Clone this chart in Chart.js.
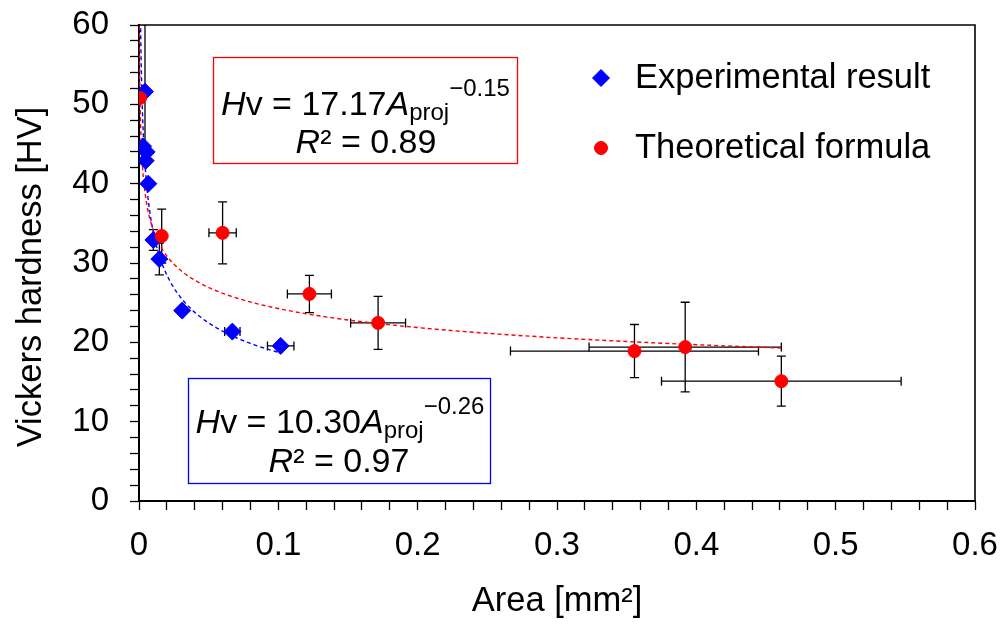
<!DOCTYPE html>
<html>
<head>
<meta charset="utf-8">
<script src="https://cdn.jsdelivr.net/npm/chart.js@4/dist/chart.umd.min.js"></script>
<style>
html,body{margin:0;padding:0;background:#fff}
canvas{display:block}
</style>
</head>
<body>
<canvas id="chartHV" width="1000" height="624"></canvas>
<script>
// Experimental result (blue diamonds)
const expArea    = [0.0043, 0.0030, 0.0055, 0.0048, 0.0067, 0.0103, 0.0146, 0.031, 0.067, 0.1017];
const expHV      = [51.6, 44.7, 44.0, 42.9, 40.0, 32.9, 30.5, 24.0, 21.35, 19.55];
const expAreaErr = [0, 0, 0, 0, 0, 0, 0, 0, 0.0055, 0.0095];
const expHVErr   = [9, 0, 0, 0, 0, 1.3, 2.0, 0, 0, 0];

// Theoretical formula (red dots)
const theoArea    = [0.0007, 0.0163, 0.060, 0.1223, 0.1716, 0.3556, 0.392, 0.461];
const theoHV      = [50.8, 33.4, 33.8, 26.1, 22.45, 18.9, 19.4, 15.1];
const theoAreaErr = [0, 0, 0.0098, 0.0158, 0.0197, 0.089, 0.069, 0.086];
const theoHVErr   = [0, 3.4, 3.9, 2.35, 3.35, 3.35, 5.65, 3.15];

// power-law trendlines printed on the chart: Hv = a * A^b, drawn over [from, to]
const expFit  = [10.30, -0.26];
const theoFit = [17.17, -0.15];
const expFitRange  = [0.0008, 0.102];
const theoFitRange = [0.0002, 0.462];

const seriesNames = ['Experimental result', 'Theoretical formula'];
const xAxisTitle = 'Area [mm²]';
const yAxisTitle = 'Vickers hardness [HV]';
const xRange = [0, 0.6], xMinorStep = 0.02;
const yRange = [0, 60], yMinorStep = 2;

const FONT = '"Liberation Sans", Arial, sans-serif';
Chart.defaults.font.family = FONT;
Chart.defaults.font.size = 33;
Chart.defaults.color = '#000';

function pts(xs, ys) { return xs.map((x, i) => ({x: x, y: ys[i]})); }
function fitCurve(fit, range) {
  const out = [], n = 120;
  const l0 = Math.log(range[0]), l1 = Math.log(range[1]);
  for (let i = 0; i <= n; i++) {
    const x = Math.exp(l0 + (l1 - l0) * i / n);
    out.push({x: x, y: fit[0] * Math.pow(x, fit[1])});
  }
  return out;
}

// error bars drawn under the markers
const errorBarsPlugin = {
  id: 'errorBars',
  beforeDatasetsDraw(chart) {
    const ctx = chart.ctx, xs = chart.scales.x, ys = chart.scales.y, a = chart.chartArea;
    ctx.save();
    ctx.beginPath(); ctx.rect(a.left, a.top, a.right - a.left, a.bottom - a.top); ctx.clip();
    ctx.strokeStyle = '#000'; ctx.lineWidth = 1.3;
    const cap = 4.5;
    chart.data.datasets.forEach(ds => {
      if (!ds.errX) return;
      ds.data.forEach((p, i) => {
        const px = xs.getPixelForValue(p.x), py = ys.getPixelForValue(p.y);
        const ex = ds.errX[i], ey = ds.errY[i];
        ctx.beginPath();
        if (ey > 0) {
          const t = ys.getPixelForValue(p.y + ey), b = ys.getPixelForValue(p.y - ey);
          ctx.moveTo(px, t); ctx.lineTo(px, b);
          ctx.moveTo(px - cap, t); ctx.lineTo(px + cap, t);
          ctx.moveTo(px - cap, b); ctx.lineTo(px + cap, b);
        }
        if (ex > 0) {
          const l = xs.getPixelForValue(p.x - ex), r = xs.getPixelForValue(p.x + ex);
          ctx.moveTo(l, py); ctx.lineTo(r, py);
          ctx.moveTo(l, py - cap); ctx.lineTo(l, py + cap);
          ctx.moveTo(r, py - cap); ctx.lineTo(r, py + cap);
        }
        ctx.stroke();
      });
    });
    ctx.restore();
  }
};

// top and right frame of the plot box, plus the y axis title
const framePlugin = {
  id: 'frame',
  afterDraw(chart) {
    const ctx = chart.ctx, a = chart.chartArea;
    ctx.save();
    ctx.strokeStyle = '#000'; ctx.lineWidth = 1.6;
    ctx.beginPath();
    ctx.moveTo(a.left, a.top); ctx.lineTo(a.right, a.top); ctx.lineTo(a.right, a.bottom);
    ctx.stroke();
    ctx.translate(31, 277);
    ctx.rotate(-Math.PI / 2);
    ctx.fillStyle = '#000';
    ctx.font = '34.5px ' + FONT;
    ctx.textAlign = 'center'; ctx.textBaseline = 'middle';
    ctx.fillText(yAxisTitle, 0, 0);
    ctx.restore();
  }
};

function drawRuns(ctx, runs, cx, base) {
  let w = 0;
  runs.forEach(r => {
    ctx.font = (r.it ? 'italic ' : '') + r.size + 'px ' + FONT;
    r.w = ctx.measureText(r.t).width; w += r.w;
  });
  let x = cx - w / 2;
  ctx.textAlign = 'left'; ctx.textBaseline = 'alphabetic';
  runs.forEach(r => {
    ctx.font = (r.it ? 'italic ' : '') + r.size + 'px ' + FONT;
    ctx.fillText(r.t, x, base + (r.dy || 0));
    x += r.w;
  });
}
function eqRuns(coef, expo) {
  return [
    {t: 'H', it: true, size: 34}, {t: 'v = ' + coef, size: 34},
    {t: 'A', it: true, size: 34}, {t: 'proj', size: 24, dy: 5},
    {t: expo, size: 24, dy: -19}
  ];
}
function r2Runs(val) {
  return [{t: 'R', it: true, size: 34}, {t: '² = ' + val, size: 34}];
}

const annotationPlugin = {
  id: 'equations',
  afterDraw(chart) {
    const ctx = chart.ctx;
    ctx.save();
    ctx.fillStyle = '#000';
    // red box (theoretical)
    ctx.strokeStyle = '#ff0000'; ctx.lineWidth = 1.3;
    ctx.strokeRect(213.5, 57.5, 304, 106);
    drawRuns(ctx, eqRuns('17.17', '−0.15'), 365.5, 115);
    drawRuns(ctx, r2Runs('0.89'), 366, 153);
    // blue box (experimental)
    ctx.strokeStyle = '#0000ff';
    ctx.strokeRect(188.5, 378.5, 302, 105);
    drawRuns(ctx, eqRuns('10.30', '−0.26'), 340, 433);
    drawRuns(ctx, r2Runs('0.97'), 339, 472);

    // legend
    const items = [
      {name: seriesNames[0], color: '#0000ff', style: 'rectRot', r: 8.5, y: 78},
      {name: seriesNames[1], color: '#ff0000', style: 'circle', r: 6.5, y: 148}
    ];
    items.forEach(it => {
      ctx.fillStyle = it.color; ctx.strokeStyle = it.color; ctx.lineWidth = 1;
      Chart.helpers.drawPoint(ctx, {pointStyle: it.style, radius: it.r, borderWidth: 1}, 601, it.y);
      ctx.fillStyle = '#000';
      ctx.font = '34.5px ' + FONT;
      ctx.textAlign = 'left'; ctx.textBaseline = 'middle';
      ctx.fillText(it.name, 635, it.y);
    });
    ctx.restore();
  }
};

new Chart(document.getElementById('chartHV'), {
  type: 'scatter',
  data: {
    datasets: [
      {
        label: seriesNames[1],
        data: pts(theoArea, theoHV), errX: theoAreaErr, errY: theoHVErr,
        pointStyle: 'circle', pointRadius: 6.5, backgroundColor: '#ff0000', borderColor: '#ff0000', borderWidth: 1
      },
      {
        label: seriesNames[0],
        data: pts(expArea, expHV), errX: expAreaErr, errY: expHVErr,
        pointStyle: 'rectRot', pointRadius: 8.5, backgroundColor: '#0000ff', borderColor: '#0000ff', borderWidth: 1
      },
      {
        label: 'fit theo', data: fitCurve(theoFit, theoFitRange), showLine: true, pointRadius: 0,
        borderColor: '#ff0000', borderWidth: 1.4, borderDash: [4, 3], clip: 0, tension: 0
      },
      {
        label: 'fit exp', data: fitCurve(expFit, expFitRange), showLine: true, pointRadius: 0,
        borderColor: '#0000ff', borderWidth: 1.4, borderDash: [4, 3], clip: 0, tension: 0
      }
    ]
  },
  options: {
    responsive: false,
    animation: false,
    layout: {padding: {left: 0, right: 25, top: 25, bottom: 0}},
    plugins: {legend: {display: false}, tooltip: {enabled: false}},
    scales: {
      x: {
        type: 'linear', min: xRange[0], max: xRange[1],
        border: {color: '#000', width: 2},
        grid: {drawOnChartArea: false, drawTicks: true, tickLength: 9, tickColor: '#000', tickWidth: 1.3},
        ticks: {
          stepSize: xMinorStep, autoSkip: false, maxRotation: 0, padding: 16,
          callback: v => {
            const k = Math.round(v * 10);
            if (Math.abs(v * 10 - k) > 1e-6) return '';
            return k === 0 ? '0' : (k / 10).toFixed(1);
          }
        },
        title: {display: true, text: xAxisTitle, font: {size: 34.5}, padding: {top: 0, bottom: 2}},
        afterFit: s => { s.height = 123; s.paddingLeft = 0; s.paddingRight = 0; }
      },
      y: {
        type: 'linear', min: yRange[0], max: yRange[1],
        border: {color: '#000', width: 2},
        grid: {drawOnChartArea: false, drawTicks: true, tickLength: 9, tickColor: '#000', tickWidth: 1.3},
        ticks: {
          stepSize: yMinorStep, autoSkip: false, padding: 21,
          callback: v => (Math.round(v) % 10 === 0 ? String(Math.round(v)) : '')
        },
        afterFit: s => { s.width = 139; s.paddingTop = 0; s.paddingBottom = 0; }
      }
    }
  },
  plugins: [errorBarsPlugin, framePlugin, annotationPlugin]
});
</script>
</body>
</html>
